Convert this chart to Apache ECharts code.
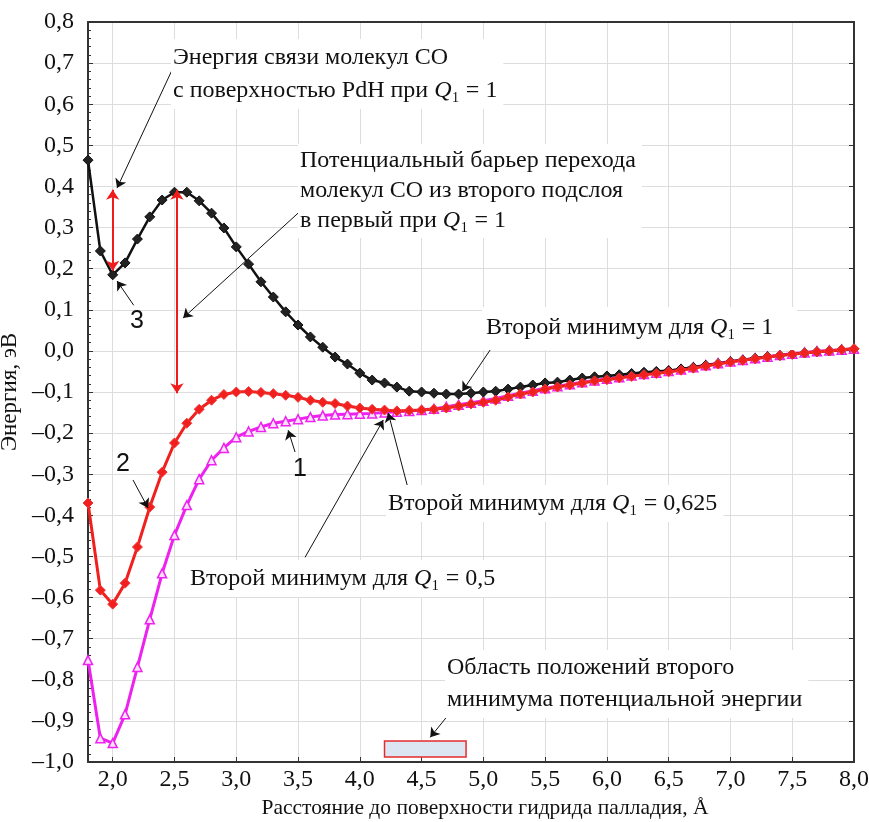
<!DOCTYPE html>
<html>
<head>
<meta charset="utf-8">
<script src="https://cdn.jsdelivr.net/npm/echarts@6.0.0/dist/echarts.min.js"></script>
<style>
  html, body { margin: 0; padding: 0; background: #fff; }
  #chart { width: 869px; height: 822px; }
</style>
</head>
<body>
<div id="chart"></div>
<script>
// расстояние, Å
const xs = [1.8, 1.9, 2.0, 2.1, 2.2, 2.3, 2.4, 2.5, 2.6, 2.7, 2.8, 2.9, 3.0, 3.1, 3.2, 3.3, 3.4, 3.5, 3.6, 3.7,
  3.8, 3.9, 4.0, 4.1, 4.2, 4.3, 4.4, 4.5, 4.6, 4.7, 4.8, 4.9, 5.0, 5.1, 5.2, 5.3, 5.4, 5.5, 5.6, 5.7,
  5.8, 5.9, 6.0, 6.1, 6.2, 6.3, 6.4, 6.5, 6.6, 6.7, 6.8, 6.9, 7.0, 7.1, 7.2, 7.3, 7.4, 7.5, 7.6, 7.7,
  7.8, 7.9, 8.0];

// кривая 3, Q1 = 1
const curve3 = [0.464, 0.243, 0.185, 0.214, 0.272, 0.326, 0.367, 0.386, 0.386, 0.365, 0.335, 0.299, 0.253, 0.211, 0.168, 0.131, 0.095, 0.063, 0.034, 0.009,
  -0.015, -0.032, -0.054, -0.071, -0.078, -0.088, -0.098, -0.100, -0.103, -0.105, -0.105, -0.103, -0.100, -0.098, -0.093, -0.088, -0.083, -0.078, -0.076, -0.071,
  -0.066, -0.063, -0.061, -0.058, -0.055, -0.052, -0.050, -0.048, -0.044, -0.040, -0.035, -0.031, -0.026, -0.022, -0.018, -0.014, -0.011, -0.008, -0.005, -0.002,
  0.000, 0.003, 0.005];

// кривая 2, Q1 = 0,625
const curve2 = [-0.370, -0.582, -0.616, -0.565, -0.477, -0.380, -0.295, -0.224, -0.176, -0.142, -0.120, -0.106, -0.100, -0.099, -0.101, -0.104, -0.108, -0.113, -0.120, -0.125,
  -0.128, -0.134, -0.139, -0.142, -0.144, -0.146, -0.145, -0.144, -0.142, -0.139, -0.134, -0.129, -0.125, -0.120, -0.112, -0.105, -0.100, -0.093, -0.088, -0.083,
  -0.078, -0.073, -0.070, -0.066, -0.062, -0.058, -0.055, -0.051, -0.047, -0.042, -0.037, -0.032, -0.027, -0.023, -0.019, -0.015, -0.011, -0.008, -0.005, -0.002,
  0.000, 0.003, 0.005];

// кривая 1, Q1 = 0,5
const curve1 = [-0.752, -0.942, -0.954, -0.884, -0.769, -0.653, -0.541, -0.448, -0.375, -0.312, -0.266, -0.236, -0.210, -0.196, -0.185, -0.176, -0.171, -0.166, -0.161, -0.157,
  -0.155, -0.154, -0.153, -0.152, -0.150, -0.148, -0.146, -0.144, -0.141, -0.136, -0.131, -0.126, -0.121, -0.116, -0.109, -0.103, -0.097, -0.091, -0.086, -0.081,
  -0.076, -0.072, -0.068, -0.064, -0.060, -0.056, -0.053, -0.049, -0.045, -0.040, -0.035, -0.030, -0.026, -0.022, -0.018, -0.014, -0.010, -0.007, -0.004, -0.001,
  0.001, 0.003, 0.005];

const xTicks = [2.0, 2.5, 3.0, 3.5, 4.0, 4.5, 5.0, 5.5, 6.0, 6.5, 7.0, 7.5, 8.0];

// область второго минимума
const regionX = [4.2, 4.86];
const regionY = [-0.988, -0.949];

// стрелки: [x1, y1, x2, y2]
const blackArrows = [
  [2.48, 0.683, 2.035, 0.396],
  [3.50, 0.335, 2.57, 0.080],
  [2.17, 0.111, 2.035, 0.170],
  [2.164, -0.314, 2.286, -0.382],
  [3.476, -0.246, 3.42, -0.193],
  [5.07, 0.009, 4.83, -0.098],
  [4.39, -0.334, 4.23, -0.151],
  [3.557, -0.502, 4.19, -0.168],
  [4.715, -0.886, 4.57, -0.940]
];
const redArrows = [
  [2.0, 0.195, 2.0, 0.392],
  [2.52, -0.103, 2.52, 0.392]
];

const serif = '"Liberation Serif", "Times New Roman", serif';
const sans = '"Liberation Sans", Arial, sans-serif';
const fmt = v => {
  const s = Math.abs(v).toFixed(1).replace('.', ',');
  return v < -1e-9 ? '\u2013' + s : s;
};
const pts = arr => xs.map((x, i) => [x, arr[i]]);
const arrowData = list => list.map(a => ({coords: [[a[0], a[1]], [a[2], a[3]]]}));

const rich = {
  q: {fontFamily: serif, fontSize: 24, fontStyle: 'italic', fill: '#111'},
};

// подпись с белым фоном
function label(text, left, top, lineHeight, padding) {
  return {
    type: 'text', left: left, top: top, z: 100,
    style: {
      text: text, rich: rich,
      fontFamily: serif, fontSize: 24, fill: '#111',
      lineHeight: lineHeight || 33, backgroundColor: '#fff',
      padding: padding || [2, 6, 2, 2]
    }
  };
}
function digit(text, left, top) {
  return {type: 'text', left: left, top: top, z: 100,
    style: {text: text, fontFamily: sans, fontSize: 25, fill: '#111'}};
}

const chart = echarts.init(document.getElementById('chart'));
const axisLine = {show: true, onZero: false, lineStyle: {color: '#333', width: 2}};

chart.setOption({
  backgroundColor: '#fff',
  animation: false,
  grid: {left: 88, right: 15, top: 22, bottom: 60, outerBoundsMode: 'none'},
  xAxis: [{
    type: 'value', min: 1.8, max: 8.0,
    name: 'Расстояние до поверхности гидрида палладия, Å',
    nameLocation: 'middle', nameGap: 33,
    nameTextStyle: {fontFamily: serif, fontSize: 21.5, color: '#111', padding: [0, 0, 0, 28]},
    axisLine: axisLine,
    axisTick: {show: true, inside: true, length: 5, customValues: xTicks, lineStyle: {color: '#333'}},
    axisLabel: {customValues: xTicks, formatter: fmt, fontFamily: serif, fontSize: 24, color: '#111', margin: 6},
    splitLine: {show: true, lineStyle: {color: '#ddd', width: 1}}
  }, {
    type: 'value', min: 1.8, max: 8.0, position: 'top',
    axisLine: axisLine,
    axisTick: {show: false}, axisLabel: {show: false}, splitLine: {show: false}
  }],
  yAxis: [{
    type: 'value', min: -1.0, max: 0.8, interval: 0.1,
    name: 'Энергия, эВ', nameLocation: 'middle', nameRotate: 90, nameGap: 64,
    nameTextStyle: {fontFamily: serif, fontSize: 23, color: '#111'},
    axisLine: axisLine,
    axisTick: {show: true, inside: true, length: 5, lineStyle: {color: '#333'}},
    minorTick: {show: true, splitNumber: 5, length: 3, lineStyle: {color: '#333'}},
    axisLabel: {formatter: fmt, fontFamily: serif, fontSize: 24, color: '#111', margin: 14},
    splitLine: {show: true, lineStyle: {color: '#ddd', width: 1}}
  }, {
    type: 'value', min: -1.0, max: 0.8, interval: 0.1, position: 'right',
    axisLine: axisLine,
    axisTick: {show: true, inside: true, length: 5, lineStyle: {color: '#333'}},
    axisLabel: {show: false}, splitLine: {show: false}
  }],
  series: [
    {
      name: '1', type: 'line', data: pts(curve1), z: 2,
      symbol: 'triangle', symbolSize: 9,
      lineStyle: {color: '#ee22ee', width: 3},
      itemStyle: {color: '#fbe0fb', borderColor: '#ee22ee', borderWidth: 1.5},
      markArea: {
        silent: true,
        itemStyle: {color: '#dce6f2', borderColor: '#e42b2b', borderWidth: 1.5},
        data: [[{coord: [regionX[0], regionY[0]]}, {coord: [regionX[1], regionY[1]]}]]
      }
    },
    {
      name: '3', type: 'line', data: pts(curve3), z: 3,
      symbol: 'diamond', symbolSize: 10,
      lineStyle: {color: '#111', width: 2.5},
      itemStyle: {color: '#222', borderColor: '#111', borderWidth: 1}
    },
    {
      name: '2', type: 'line', data: pts(curve2), z: 4,
      symbol: 'diamond', symbolSize: 10,
      lineStyle: {color: '#f0201e', width: 3},
      itemStyle: {color: '#f0201e', borderColor: '#f23a3a', borderWidth: 1}
    },
    {
      type: 'lines', coordinateSystem: 'cartesian2d', z: 6, silent: true,
      symbol: ['none', 'arrow'], symbolSize: 9,
      lineStyle: {color: '#111', width: 1, opacity: 1},
      data: arrowData(blackArrows)
    },
    {
      type: 'lines', coordinateSystem: 'cartesian2d', z: 6, silent: true,
      symbol: ['arrow', 'arrow'], symbolSize: 10,
      lineStyle: {color: '#f01c1c', width: 2, opacity: 1},
      data: arrowData(redArrows)
    }
  ],
  graphic: [
    label('Энергия связи молекул CO\nс поверхностью PdH при {q|Q}₁ = 1', 171, 39),
    label('Потенциальный барьер перехода\nмолекул CO из второго подслоя\nв первый при {q|Q}₁ = 1', 298, 144, 30),
    label('Второй минимум для {q|Q}₁ = 1', 482, 307, 33, [4, 24, 6, 4]),
    label('Второй минимум для {q|Q}₁ = 0,625', 386, 485),
    label('Второй минимум для {q|Q}₁ = 0,5', 188, 560),
    label('Область положений второго\nминимума потенциальной энергии', 445, 650, 32),
    digit('3', 130, 309),
    digit('2', 116, 452),
    digit('1', 293, 457)
  ]
});
</script>
</body>
</html>
